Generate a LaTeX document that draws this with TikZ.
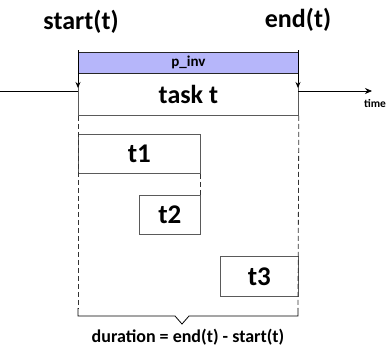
\documentclass[tikz,border=0pt]{standalone}
\usepackage{fontspec}
\setmainfont{Carlito}
\usetikzlibrary{arrows.meta}
\definecolor{pinvfill}{RGB}{182,182,250}
\definecolor{framegray}{RGB}{90,90,90}
\begin{document}
\begin{tikzpicture}[x=1pt,y=-1pt,font=\bfseries,
  box/.style={draw=framegray,line width=0.8pt,inner sep=0pt,anchor=north west},
  big/.style={font=\bfseries\fontsize{26}{26}\selectfont},
  sub/.style={font=\bfseries\fontsize{27}{27}\selectfont},
  lbl/.style={inner sep=0pt},
  tick/.style={draw=black,line width=0.8pt,-{Stealth[length=6pt,width=5pt]}},
  axis/.style={draw=black,line width=0.8pt},
  dline/.style={draw=black!80,line width=0.8pt,dash pattern=on 5pt off 3pt}]
\useasboundingbox (0,0) rectangle (386,348);
% labels
\node[lbl,big] (start) at (81,22) {start(t)};
\node[lbl,big] (end) at (298,20) {end(t)};
% task box
\node[box,big,minimum width=220pt,minimum height=42pt] (task) at (78,73) {task t};
% p_inv
\node[box,draw=black!85,fill=pinvfill,minimum width=220pt,minimum height=21pt,font=\bfseries\fontsize{15}{15}\selectfont] (pinv) at (78,52) {p\_inv};
% coordinates
\coordinate (sTop) at (78,50);
\coordinate (eTop) at (298,50);
\coordinate (sArr) at (78,88);
\coordinate (eArr) at (298,88);
\coordinate (axL) at (0,91);
\coordinate (axS) at (78,91);
\coordinate (axE) at (298,91);
\coordinate (axR) at (372,91);
\draw[tick] (sTop) -- (sArr);
\draw[tick] (eTop) -- (eArr);
\draw[axis] (axL) -- (axS);
\draw[axis,-{Stealth[length=7pt,width=6pt]}] (axE) -- (axR);
\node[lbl,font=\bfseries\fontsize{11.5}{11.5}\selectfont] (time) at (375,103) {time};
% sub tasks
\node[box,sub,minimum width=122pt,minimum height=39pt] (t1) at (78,134) {t1};
\node[box,sub,minimum width=61pt,minimum height=39pt] (t2) at (139,195) {t2};
\node[box,sub,minimum width=78pt,minimum height=40pt] (t3) at (220,256) {t3};
% dashed
\coordinate (bL) at (78,308);
\coordinate (bR) at (298,308);
\draw[dline] (task.south west) -- (bL);
\draw[dline] (task.south east) -- (bR);
\draw[dline] (t1.south east) -- (t2.north east);
% bracket
\draw[axis,line join=miter] (bL) -- (78,316) -- (175,316) -- (182,324) -- (189,316) -- (298,316) -- (bR);
\node[lbl,font=\bfseries\fontsize{18}{18}\selectfont] (dur) at (188,337.5) {duration = end(t) - start(t)};
\end{tikzpicture}
\end{document}
